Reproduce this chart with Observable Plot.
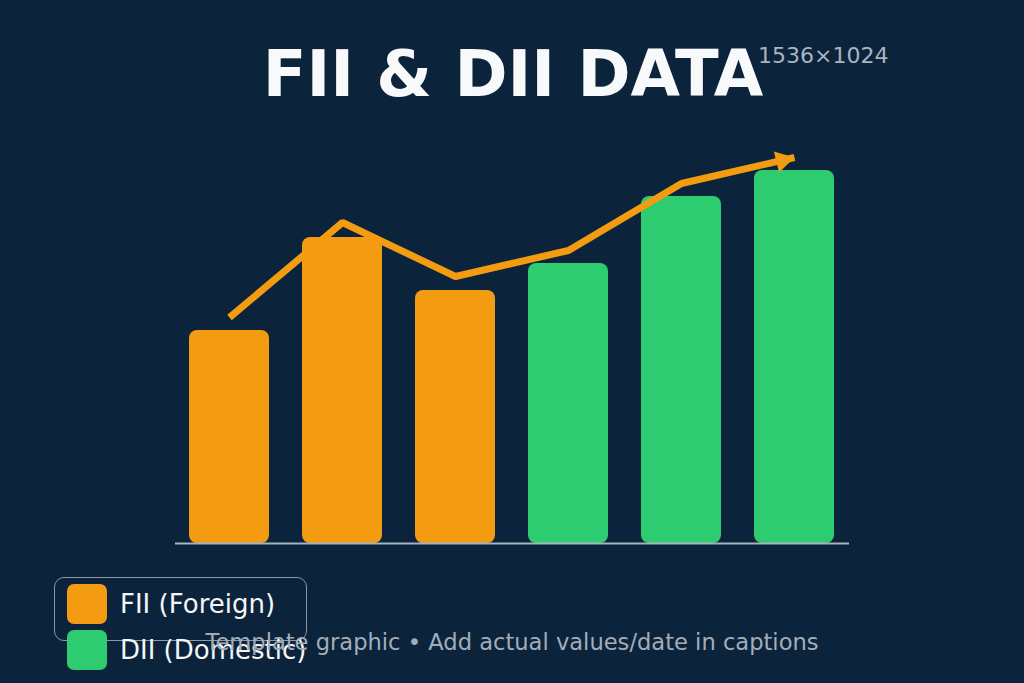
<!DOCTYPE html>
<html>
<head>
<meta charset="utf-8">
<script src="https://cdn.jsdelivr.net/npm/d3@7"></script>
<script src="https://cdn.jsdelivr.net/npm/@observablehq/plot@0.6"></script>
<style>
  html, body { margin: 0; padding: 0; background: #0b233b; width: 1024px; height: 683px; overflow: hidden; font-family: "DejaVu Sans", sans-serif; }
  #wrap { position: relative; width: 1024px; height: 683px; }
  #chart { position: absolute; left: 0; top: 0; }
  .title { position: absolute; left: 0; width: 1026px; top: 42px; text-align: center; font-weight: bold; font-size: 64px; color: #f7f9fb; line-height: 1; }
  .dim { position: absolute; left: 758px; top: 43px; font-size: 22px; color: #aab4bf; }
  .legend { position: absolute; left: 54px; top: 577px; width: 253px; height: 64px; border: 1.5px solid #8d99a6; border-radius: 10px; box-sizing: border-box; }
  .item { position: absolute; left: 67px; font-size: 26px; color: #f4f6f8; display: flex; align-items: center; }
  .sw { width: 40px; height: 40px; border-radius: 7px; margin-right: 13px; }
  .caption { position: absolute; left: 0; width: 1024px; text-align: center; top: 629px; font-size: 22.6px; color: #a3adb8; }
</style>
</head>
<body>
<div id="wrap">
  <div id="chart"></div>
</div>
<script>
const categories = ["P1", "P2", "P3", "P4", "P5", "P6"];
const groups = ["FII", "FII", "FII", "DII", "DII", "DII"];
const barValues = [213, 306, 253, 280, 347, 373];
const trendValues = [226, 321, 267, 293, 360, 386];
const legendLabels = ["FII (Foreign)", "DII (Domestic)"];
const legendKeys = ["FII", "DII"];
const colors = {FII: "#f39c12", DII: "#2ecc71"};

const bars = categories.map((c, i) => ({cat: c, group: groups[i], value: barValues[i]}));
const trend = categories.map((c, i) => ({cat: c, value: trendValues[i]}));
const last = trend[trend.length - 1];

const chart = Plot.plot({
  width: 1024,
  height: 683,
  marginLeft: 175,
  marginRight: 175,
  marginTop: 143,
  marginBottom: 140,
  style: {background: "transparent"},
  x: {domain: categories, paddingInner: 0.29, paddingOuter: 0.122, axis: null},
  y: {domain: [0, 400], axis: null},
  color: {domain: legendKeys, range: legendKeys.map(k => colors[k])},
  marks: [
    Plot.barY(bars, {x: "cat", y: "value", fill: "group", rx: 8}),
    Plot.ruleY([0], {stroke: "#a9b3be", strokeWidth: 2}),
    Plot.line(trend, {x: "cat", y: "value", stroke: "#f39c12", strokeWidth: 7, strokeLinejoin: "miter", strokeLinecap: "butt"}),
    Plot.dot([last], {x: "cat", y: "value", symbol: "triangle", r: 8, dx: -12, dy: 3, fill: "#f39c12", stroke: "none", rotate: 76})
  ]
});
document.getElementById("chart").appendChild(chart);

const wrap = document.getElementById("wrap");
const t = document.createElement("div"); t.className = "title"; t.textContent = "FII & DII DATA"; wrap.appendChild(t);
const d = document.createElement("div"); d.className = "dim"; d.textContent = "1536×1024"; wrap.appendChild(d);
const lg = document.createElement("div"); lg.className = "legend"; wrap.appendChild(lg);
legendLabels.forEach((lab, i) => {
  const it = document.createElement("div"); it.className = "item";
  it.style.top = (584 + i * 46) + "px";
  const sw = document.createElement("div"); sw.className = "sw"; sw.style.background = colors[legendKeys[i]];
  const tx = document.createElement("span"); tx.textContent = lab;
  it.appendChild(sw); it.appendChild(tx); wrap.appendChild(it);
});
const cap = document.createElement("div"); cap.className = "caption"; cap.textContent = "Template graphic • Add actual values/date in captions"; wrap.appendChild(cap);
</script>
</body>
</html>
